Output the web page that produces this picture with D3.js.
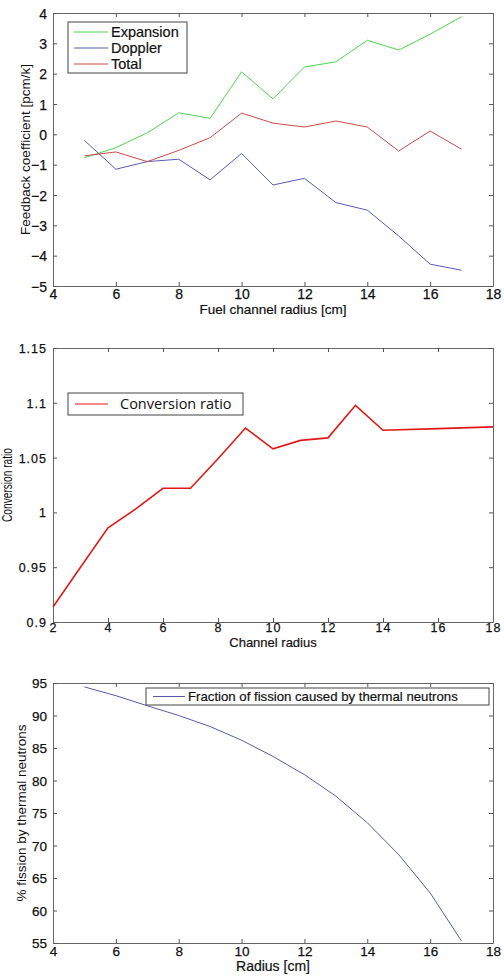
<!DOCTYPE html>
<html>
<head>
<meta charset="utf-8">
<script src="https://cdn.jsdelivr.net/npm/d3@7"></script>
<style>
  body { margin: 0; background: #fff; }
  svg { display: block; font-family: "Liberation Sans", Arial, sans-serif; }
  .tick text { fill: #111; }
</style>
</head>
<body>
<div id="chart"></div>
<script>
// panel 1 - feedback coefficients
const radius1 = [5, 6, 7, 8, 9, 10, 11, 12, 13, 14, 15, 16, 17];
const expansion = [-0.77, -0.44, 0.05, 0.71, 0.53, 2.06, 1.17, 2.22, 2.39, 3.1, 2.78, 3.3, 3.88];
const doppler = [-0.2, -1.15, -0.9, -0.82, -1.5, -0.63, -1.67, -1.45, -2.25, -2.5, -3.35, -4.28, -4.48];
const total = [-0.71, -0.58, -0.9, -0.53, -0.11, 0.7, 0.37, 0.24, 0.44, 0.24, -0.55, 0.11, -0.49];

// panel 2 - conversion ratio
const radius2 = [2, 3, 4, 5, 6, 7, 8, 9, 10, 11, 12, 13, 14, 16, 18];
const conversion = [0.9137, 0.95, 0.986, 1.003, 1.022, 1.022, 1.049, 1.077, 1.058, 1.0657, 1.068, 1.0977, 1.0749, 1.0764, 1.078];

// panel 3 - thermal fission fraction
const radius3 = [5, 6, 7, 8, 9, 10, 11, 12, 13, 14, 15, 16, 17];
const thermal = [94.4, 93.05, 91.5, 90.0, 88.3, 86.2, 83.7, 80.9, 77.6, 73.5, 68.6, 62.7, 55.3];

const xTicks1 = [4, 6, 8, 10, 12, 14, 16, 18];
const yTicks1 = [-5, -4, -3, -2, -1, 0, 1, 2, 3, 4];
const xTicks2 = [2, 4, 6, 8, 10, 12, 14, 16, 18];
const yTicks2 = [0.9, 0.95, 1, 1.05, 1.1, 1.15];
const yTicks3 = [55, 60, 65, 70, 75, 80, 85, 90, 95];

const width = 504, height = 979;

const svg = d3.select("#chart")
    .append("svg")
    .attr("width", width)
    .attr("height", height);

const drawPanel = (opt) => {
    const x = d3.scaleLinear().domain(opt.xDomain).range([53, 493]);
    const y = d3.scaleLinear().domain(opt.yDomain).range([opt.bottom, opt.top]);
    const g = svg.append("g");

    // ticks on all four sides, pointing inward
    const tl = 4;
    const axes = [
        [d3.axisBottom(x).tickValues(opt.xTicks).tickSize(-tl), `translate(0,${opt.bottom})`, true],
        [d3.axisTop(x).tickValues(opt.xTicks).tickSize(-tl), `translate(0,${opt.top})`, false],
        [d3.axisLeft(y).tickValues(opt.yTicks).tickSize(-tl).tickFormat(opt.yFormat || d3.format("")), `translate(53,0)`, true],
        [d3.axisRight(y).tickValues(opt.yTicks).tickSize(-tl), `translate(493,0)`, false]
    ];
    axes.forEach(([ax, tr, labels], i) => {
        const a = g.append("g").attr("transform", tr).call(ax.tickSizeOuter(0))
            .attr("font-family", null).attr("font-size", null);
        a.select(".domain").attr("stroke", "#666");
        a.selectAll(".tick line").attr("stroke", "#555");
        if (!labels) a.selectAll(".tick text").remove();
        else {
            a.selectAll(".tick text")
                .attr("font-size", opt.tickSize)
                .attr("letter-spacing", opt.tickSpacing || 0)
                .attr("stroke", "#111")
                .attr("stroke-width", 0.25);
            if (i === 0) a.selectAll(".tick text").attr("dy", opt.xTickDy).attr("y", 0);
            if (i === 2) a.selectAll(".tick text").attr("x", -6).attr("dy", "0.36em");
        }
    });

    // series
    const line = d3.line().x(d => x(d[0])).y(d => y(d[1]));
    opt.series.forEach(s => {
        g.append("path")
            .datum(s.xs.map((v, i) => [v, s.ys[i]]))
            .attr("fill", "none")
            .attr("stroke", s.color)
            .attr("stroke-width", s.width || 1)
            .attr("d", line);
    });

    // x label
    g.append("text")
        .text(opt.xLabel)
        .attr("x", 273)
        .attr("y", opt.xLabelY)
        .attr("text-anchor", "middle")
        .attr("font-size", opt.xLabelSize || 13.5)
        .attr("fill", "#111")
        .attr("stroke", "#111")
        .attr("stroke-width", 0.2);

    // y label
    const yl = g.append("text")
        .text(opt.yLabel)
        .attr("transform", `translate(${opt.yLabelX},${(opt.top + opt.bottom) / 2}) rotate(-90)`)
        .attr("text-anchor", "middle")
        .attr("font-size", opt.yLabelSize || 13.5)
        .attr("fill", "#111");
    if (opt.yLabelLength) yl.attr("textLength", opt.yLabelLength).attr("lengthAdjust", "spacingAndGlyphs");

    // legend
    const L = opt.legend;
    g.append("rect")
        .attr("x", L.x).attr("y", L.y)
        .attr("width", L.w).attr("height", L.h)
        .attr("fill", "#fff")
        .attr("stroke", "#444");
    opt.series.forEach((s, i) => {
        const ly = L.y + L.first + i * L.step;
        g.append("line")
            .attr("x1", L.x + L.l1).attr("x2", L.x + L.l2)
            .attr("y1", ly).attr("y2", ly)
            .attr("stroke", s.color)
            .attr("stroke-width", 1);
        g.append("text")
            .text(s.name)
            .attr("x", L.x + L.tx)
            .attr("y", ly)
            .attr("dy", "0.35em")
            .attr("font-size", L.size)
            .attr("font-family", L.font || null)
            .attr("fill", "#111")
            .attr("stroke", L.font ? null : "#111")
            .attr("stroke-width", 0.2);
    });
};

drawPanel({
    xDomain: [4, 18], yDomain: [-5, 4], top: 13, bottom: 286,
    xTicks: xTicks1, yTicks: yTicks1, tickSize: 14, xTickDy: "0.95em",
    xLabel: "Fuel channel radius [cm]", xLabelY: 314,
    yLabel: "Feedback coefficient [pcm/k]", yLabelX: 30,
    series: [
        { name: "Expansion", xs: radius1, ys: expansion, color: "#4fd44f" },
        { name: "Doppler", xs: radius1, ys: doppler, color: "#5a5ab4" },
        { name: "Total", xs: radius1, ys: total, color: "#cc4a4a" }
    ],
    legend: { x: 68, y: 22, w: 119, h: 51, first: 10, step: 16, l1: 6, l2: 40, tx: 43, size: 14.5 }
});

drawPanel({
    xDomain: [2, 18], yDomain: [0.9, 1.15], top: 348, bottom: 622,
    xTicks: xTicks2, yTicks: yTicks2, tickSize: 12.5, tickSpacing: 1, xTickDy: "0.8em",
    yFormat: d => d3.format("")(+d.toFixed(2)),
    xLabel: "Channel radius", xLabelY: 647, xLabelSize: 13,
    yLabel: "Conversion ratio", yLabelX: 12, yLabelSize: 14, yLabelLength: 74,
    series: [
        { name: "Conversion ratio", xs: radius2, ys: conversion, color: "#e01818", width: 1.6 }
    ],
    legend: { x: 68, y: 393, w: 175, h: 22, first: 11, step: 0, l1: 7, l2: 40, tx: 52, size: 14.5, font: "'Open Sans', sans-serif" }
});

drawPanel({
    xDomain: [4, 18], yDomain: [55, 95], top: 683, bottom: 943,
    xTicks: xTicks1, yTicks: yTicks3, tickSize: 13.5, xTickDy: "0.95em",
    xLabel: "Radius [cm]", xLabelY: 971, xLabelSize: 14,
    yLabel: "% fission by thermal neutrons", yLabelX: 26,
    series: [
        { name: "Fraction of fission caused by thermal neutrons", xs: radius3, ys: thermal, color: "#5a5aa8" }
    ],
    legend: { x: 146, y: 688, w: 343, h: 17, first: 8.5, step: 0, l1: 7, l2: 39, tx: 42, size: 13.2 }
});
</script>
</body>
</html>
